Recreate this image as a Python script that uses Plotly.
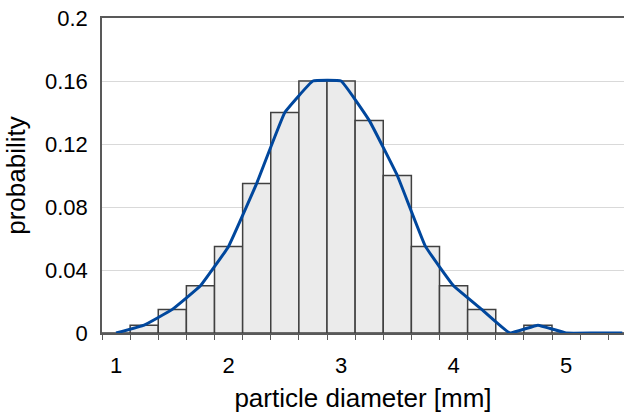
import plotly.graph_objects as go

# particle size distribution
diameter = [1.0, 1.25, 1.5, 1.75, 2.0, 2.25, 2.5, 2.75, 3.0, 3.25,
            3.5, 3.75, 4.0, 4.25, 4.5, 4.75, 5.0, 5.25, 5.5]
probability = [0, 0.005, 0.015, 0.03, 0.055, 0.095, 0.14, 0.16, 0.16, 0.135,
               0.1, 0.055, 0.03, 0.015, 0, 0.005, 0, 0, 0]

x_ticks = [1, 2, 3, 4, 5]
y_ticks = [0, 0.04, 0.08, 0.12, 0.16, 0.2]
y_labels = ["0", "0.04", "0.08", "0.12", "0.16", "0.2"]

font = "Liberation Sans, Arial, sans-serif"

fig = go.Figure()
fig.add_trace(go.Bar(x=diameter, y=probability, width=0.25,
                     marker=dict(color="#EBEBEB", line=dict(color="#404040", width=1.5))))
fig.add_trace(go.Scatter(x=diameter, y=probability, mode="lines",
                         line=dict(color="#00479D", width=3, shape="spline", smoothing=0.25)))

fig.update_layout(
    width=624, height=414,
    margin=dict(l=102, r=0, t=18, b=81),
    plot_bgcolor="white", paper_bgcolor="white",
    showlegend=False,
    font=dict(family=font, size=22, color="#000000"),
)
fig.update_xaxes(
    range=[0.875, 5.515], tickvals=x_ticks, ticks="", ticklabelstandoff=12,
    automargin=False, ticklabeloverflow="allow",
    showline=True, mirror=True, linecolor="#595959", linewidth=1.5,
    showgrid=False, zeroline=False,
    minor=dict(ticks="outside", ticklen=5, tick0=0.875, dtick=0.25,
               tickcolor="#595959", tickwidth=1, showgrid=False),
    title=dict(text="particle diameter [mm]", standoff=12),
)
fig.update_yaxes(
    range=[0, 0.2], tickvals=y_ticks, ticktext=y_labels, ticks="",
    ticklabelstandoff=8, automargin=False, ticklabeloverflow="allow",
    showline=True, linecolor="#595959", linewidth=1.5,
    showgrid=True, gridcolor="#D9D9D9", gridwidth=1, zeroline=False,
    title=dict(text="probability", standoff=12),
)

# drop the page's default body margin so the figure sits at the corner
fig.write_html("out.html", config={"displayModeBar": False},
               post_script="document.body.style.margin='0';")
